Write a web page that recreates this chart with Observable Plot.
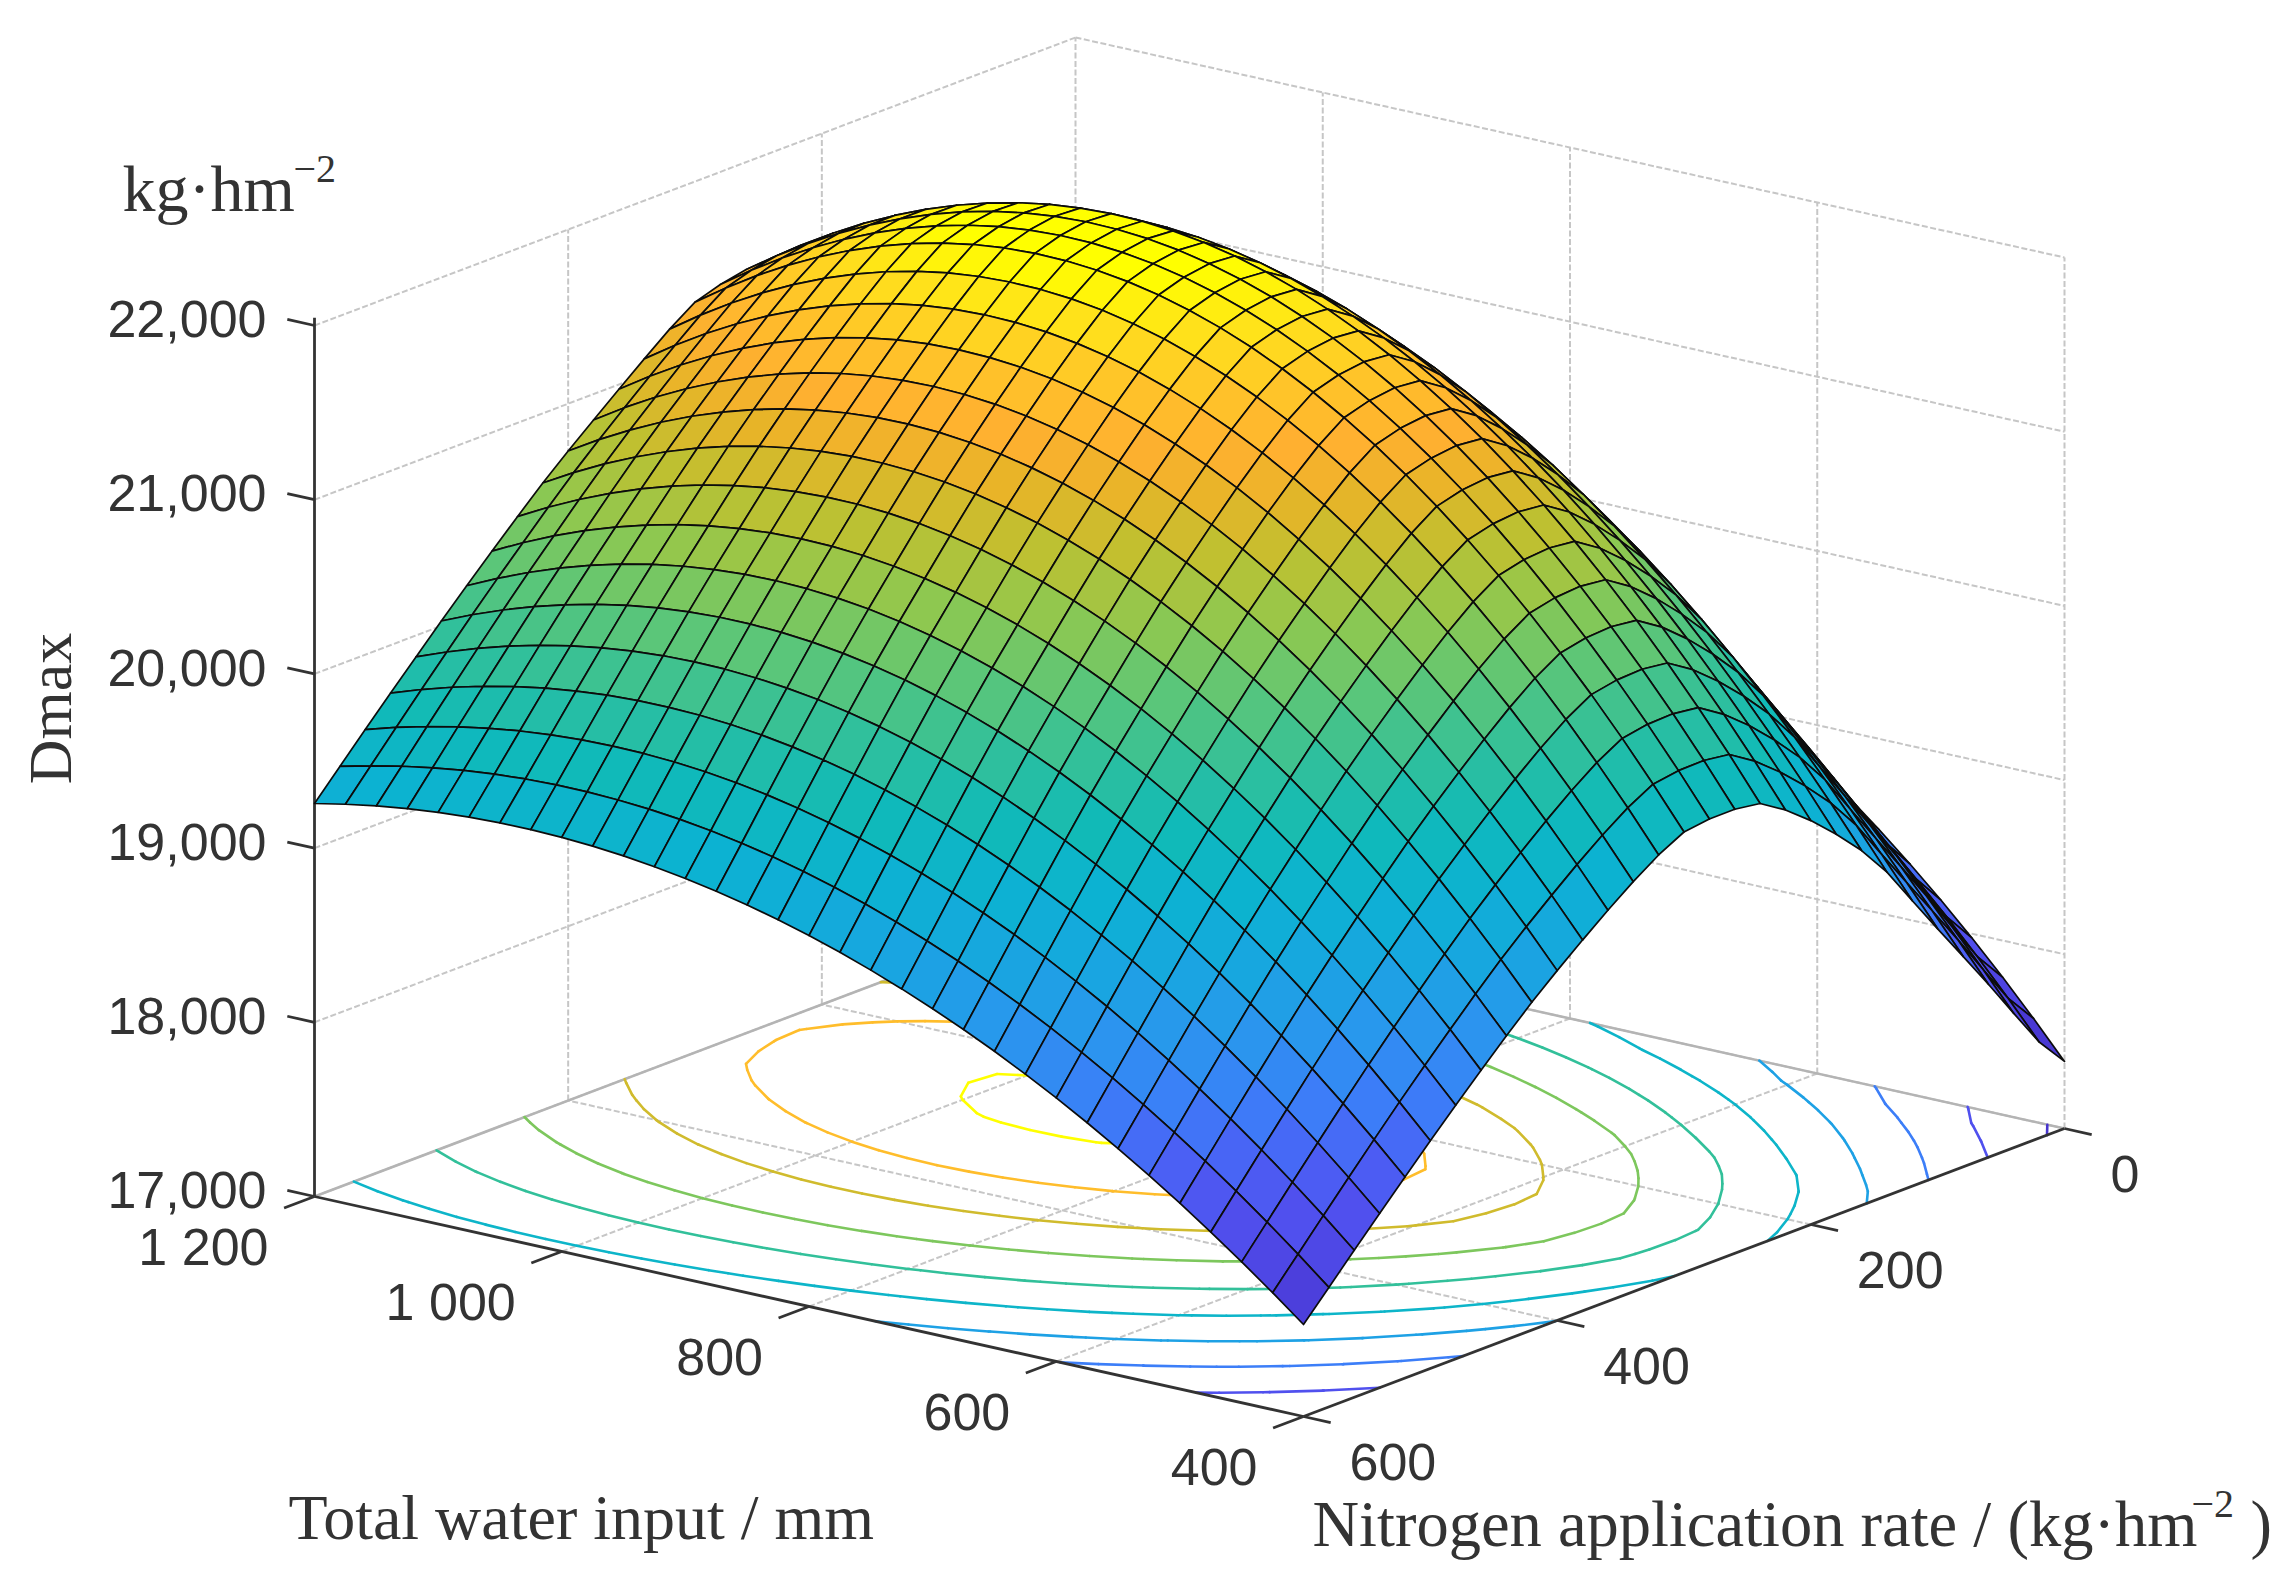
<!DOCTYPE html>
<html><head><meta charset="utf-8">
<script src="https://cdn.jsdelivr.net/npm/d3@7"></script>
<script src="https://cdn.jsdelivr.net/npm/@observablehq/plot@0.6"></script>
<style>html,body{margin:0;background:#fff}</style></head><body><div id="c"></div>
<script>
const nitrogen = d3.range(0,601,20);
const water = d3.range(400,1201,25);
const zTicks=[17000,18000,19000,20000,21000,22000];
const nTicks=[0,200,400,600];
const wTicks=[400,600,800,1000,1200];
const levels=[17500,18000,18500,19000,19500,20000,20500,21000,21500,22000];
const colorZ=[17400,17700,18000,18250,18500,18800,19100,19400,19700,20000,20300,20600,20900,21150,21350,21600,21800,22000];
const colorC=["#4430c4","#4d40de","#5050ee","#4a62f5","#3c7ef8","#2a96ee","#18a6e0","#0cb2d2","#10bab8","#32c09a","#5cc678","#8ec850","#c0c030","#e8b428","#ffb030","#ffc628","#ffe01c","#ffff00"];
// DEV model
function herm(K,x){const n=K.length;let i=0;while(i<n-2&&x>K[i+1][0])i++;
 const t=(x-K[i][0])/(K[i+1][0]-K[i][0]),h=K[i+1][0]-K[i][0];
 const m=j=>{const a=K[Math.max(j-1,0)],b=K[Math.min(j+1,n-1)];return (b[1]-a[1])/(b[0]-a[0]);};
 const t2=t*t,t3=t2*t;return (2*t3-3*t2+1)*K[i][1]+(t3-2*t2+t)*h*m(i)+(-2*t3+3*t2)*K[i+1][1]+(t3-t2)*h*m(i+1);}
const GK=[[0,0],[.1,472],[.21,972],[.331,1472],[.485,1972],[.55,2020],[.612,1972],[.741,1472],[.821,972],[.899,472],[.975,-28],[1,-143]];
const BK=[[0,0],[.2,1500],[.56,3200],[.8,2800],[1,2100]];
const TK=[[0,0],[.4,0],[.56,100],[.75,300],[1,500]];
const zT=water.map(w=>nitrogen.map(n=>{const u=(600-n)/600,v=(w-400)/800;
 return 17528+herm(GK,u)+4678*v-2950*v*v+herm(BK,u)*v*(1-v)+v**4*herm(TK,u);}));

const F=[1303,1416],ux=761,uy=-288,vx=-989,vy=-220,zs=871/5000;
function proj(n,w,z){const u=(600-n)/600,v=(w-400)/800;return [F[0]+ux*u+vx*v,F[1]+uy*u+vy*v-(z-17000)*zs];}
const seg=(a,b)=>[{p:proj(...a)},{p:proj(...b)}];
function links(list){return list.map(([a,b])=>{const p=proj(...a),q=proj(...b);return {x1:p[0],y1:p[1],x2:q[0],y2:q[1]};});}
const Z0=17000,Z1=22000;
const gridL=[];
for(const n of [200,400]) gridL.push([[n,1200,Z0],[n,1200,Z1]]);
gridL.push([[0,1200,Z0],[0,1200,Z1]]);
for(const w of [600,800,1000]) gridL.push([[0,w,Z0],[0,w,Z1]]);
gridL.push([[0,400,Z0],[0,400,Z1]]);
for(const z of zTicks){gridL.push([[600,1200,z],[0,1200,z]]);gridL.push([[0,1200,z],[0,400,z]]);}
for(const n of [200,400]) gridL.push([[n,400,Z0],[n,1200,Z0]]);
for(const w of [600,800,1000]) gridL.push([[0,w,Z0],[600,w,Z0]]);
const backL=[[[600,1200,Z0],[0,1200,Z0]],[[0,1200,Z0],[0,400,Z0]]];
const axisL=[[[600,1200,Z0],[600,1200,Z1+45]],[[600,400,Z0],[600,1200,Z0]],[[600,400,Z0],[0,400,Z0]]];
for(const z of zTicks) axisL.push([[600,1200,z],[600,1222,z]]);
for(const n of nTicks) axisL.push([[n,400,Z0],[n,378,Z0]]);
for(const w of wTicks) axisL.push([[600,w,Z0],[624,w,Z0]]);
// cells
const cells=[];let id=0;
for(let j=water.length-2;j>=0;j--)for(let i=0;i<nitrogen.length-1;i++){
 const c=[[i,j],[i+1,j],[i+1,j+1],[i,j+1],[i,j]];
 const val=(zT[j][i]+zT[j][i+1]+zT[j+1][i]+zT[j+1][i+1])/4;
 for(const [a,b] of c){const p=proj(nitrogen[a],water[b],zT[b][a]);cells.push({cell:id,px:p[0],py:p[1],val});}
 id++;}
// contours
const conts=[];
for(const L of levels)for(let j=0;j<water.length-1;j++)for(let i=0;i<nitrogen.length-1;i++){
 const cs=[[i,j],[i+1,j],[i+1,j+1],[i,j+1]],pts=[];
 for(let k=0;k<4;k++){const [a,b]=cs[k],[c,d]=cs[(k+1)%4],va=zT[b][a],vb=zT[d][c];
  if((va<L)!==(vb<L)){const t=(L-va)/(vb-va);pts.push(proj(nitrogen[a]+t*(nitrogen[c]-nitrogen[a]),water[b]+t*(water[d]-water[b]),Z0));}}
 for(let k=0;k+1<pts.length;k+=2)conts.push({x1:pts[k][0],y1:pts[k][1],x2:pts[k+1][0],y2:pts[k+1][1],L});}
const S=(x,y,t,o={})=>Plot.text([t],{x:()=>x,y:()=>y,text:d=>d,frameAnchor:undefined,...o});
const sans={fontFamily:"Liberation Sans",fontSize:52,fill:"#333",lineAnchor:"middle"};
const serif={fontFamily:"Liberation Serif",fill:"#333",lineAnchor:"bottom",textAnchor:"start"};
const zLab=zTicks.map(z=>{const p=proj(600,1200,z);return {x:p[0],y:p[1],t:d3.format(",")(z)};});
const wLab=wTicks.map(w=>{const p=proj(600,w,Z0);return {x:p[0],y:p[1],t:w>=1000?String(w).replace(/^(\d)/,"$1 "):String(w)};});
const nLab=nTicks.map(n=>{const p=proj(n,400,Z0);return {x:p[0],y:p[1],t:String(n)};});
const chart=Plot.plot({width:2295,height:1586,margin:0,
 x:{domain:[0,2295],range:[0,2295],axis:null},y:{domain:[0,1586],range:[0,1586],axis:null},
 color:{type:"linear",domain:colorZ,range:colorC,clamp:true},
 marks:[
  Plot.link(links(gridL),{x1:"x1",y1:"y1",x2:"x2",y2:"y2",stroke:"#c6c6c6",strokeWidth:2,strokeDasharray:"6 2.5"}),
  Plot.link(links(backL),{x1:"x1",y1:"y1",x2:"x2",y2:"y2",stroke:"#b4b4b4",strokeWidth:2.6}),
  Plot.link(conts,{x1:"x1",y1:"y1",x2:"x2",y2:"y2",stroke:"L",strokeWidth:2.6,strokeLinecap:"round"}),
  Plot.link(links(axisL),{x1:"x1",y1:"y1",x2:"x2",y2:"y2",stroke:"#333",strokeWidth:2.8}),
  Plot.line(cells,{x:"px",y:"py",z:"cell",fill:"val",stroke:"#0c0c0c",strokeWidth:1.7,strokeLinejoin:"round"}),
  Plot.text(zLab,{x:"x",y:"y",text:"t",dx:-48,dy:-5,textAnchor:"end",...sans}),
  Plot.text(wLab,{x:"x",y:"y",text:"t",dx:-46,dy:52,textAnchor:"end",...sans}),
  Plot.text(nLab,{x:"x",y:"y",text:"t",dx:46,dy:47,textAnchor:"start",...sans}),
  S(288,1538,"Total water input / mm",{...serif,fontSize:64,lineAnchor:"bottom"}),
  S(1312,1545,"Nitrogen application rate / (kg·hm",{...serif,fontSize:64.5}),
  S(2191,1516,"−2",{...serif,fontSize:40}),
  S(2250,1545,")",{...serif,fontSize:64.5}),
  S(122,210,"kg·hm",{...serif,fontSize:66}),
  S(293,181,"−2",{...serif,fontSize:40}),
  S(51,708,"Dmax",{fontFamily:"Liberation Serif",fill:"#333",fontSize:62,rotate:-90,lineAnchor:"middle",textAnchor:"middle"})
 ]});
document.getElementById("c").appendChild(chart);
</script></body></html>
